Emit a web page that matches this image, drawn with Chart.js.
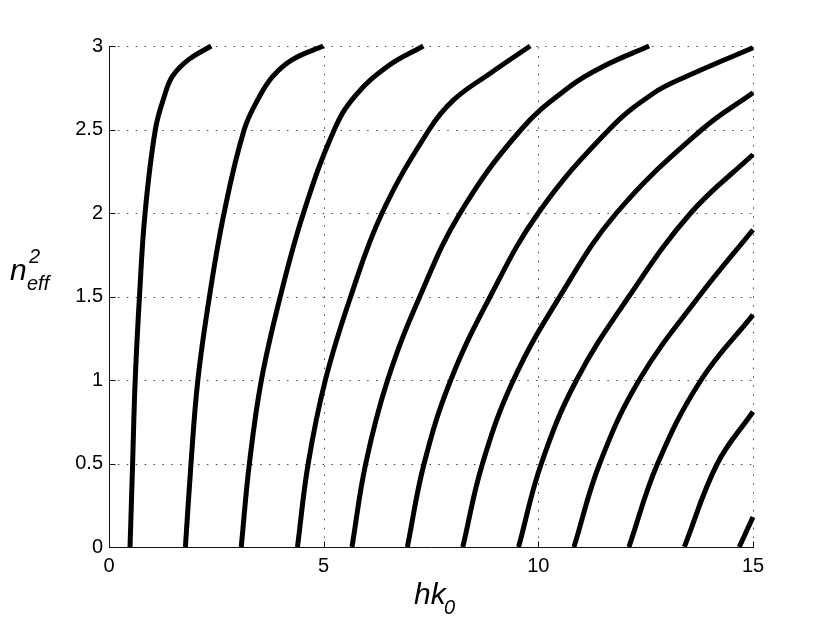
<!DOCTYPE html>
<html>
<head>
<meta charset="utf-8">
<script src="https://cdn.jsdelivr.net/npm/chart.js@4.4.1/dist/chart.umd.min.js"></script>
<style>
  html, body { margin: 0; padding: 0; background: #fff; }
  #wrap { position: relative; width: 830px; height: 625px; }
  .lab { position: absolute; font-family: "Liberation Sans", Arial, sans-serif; font-style: italic; color: #000; white-space: nowrap; }
  .big { font-size: 30px; line-height: 30px; }
  .small { font-size: 20px; line-height: 20px; }
</style>
</head>
<body>
<div id="wrap">
  <canvas id="chart" width="830" height="625"></canvas>
  <div class="lab big" style="left:10px; top:255px;">n</div>
  <div class="lab small" style="left:29px; top:246px;">2</div>
  <div class="lab small" style="left:27px; top:273px;">eff</div>
  <div class="lab big" style="left:414px; top:579px;">hk</div>
  <div class="lab small" style="left:444px; top:597px;">0</div>
</div>
<script>
// [hk0, neff^2], one list per mode
const mode1 = [[0.49,0],[0.55,0.5],[0.61,1.0],[0.71,1.5],[0.84,2.0],[1.08,2.5],[1.29,2.70],[1.48,2.82],[1.86,2.92],[2.38,3.0]];
const mode2 = [[1.78,0],[1.91,0.5],[2.07,1.0],[2.34,1.5],[2.68,2.0],[3.15,2.5],[3.51,2.70],[3.82,2.82],[4.28,2.92],[4.99,3.0]];
const mode3 = [[3.08,0],[3.27,0.5],[3.55,1.0],[3.99,1.5],[4.53,2.0],[5.25,2.5],[5.73,2.70],[6.50,2.88],[7.32,3.0]];
const mode4 = [[4.39,0],[4.64,0.5],[5.04,1.0],[5.63,1.5],[6.36,2.0],[7.46,2.5],[8.04,2.68],[8.90,2.84],[9.81,3.0]];
const mode5 = [[5.66,0],[5.98,0.5],[6.49,1.0],[7.24,1.5],[8.18,2.0],[9.6,2.5],[10.75,2.76],[11.53,2.88],[12.58,3.0]];
const mode6 = [[6.95,0],[7.34,0.5],[7.96,1.0],[8.88,1.5],[10.0,2.0],[11.65,2.5],[12.70,2.72],[13.47,2.82],[15.0,2.99]];
const mode7 = [[8.24,0],[8.70,0.5],[9.42,1.0],[10.5,1.5],[11.82,2.0],[13.81,2.5],[15.0,2.72]];
const mode8 = [[9.54,0],[10.07,0.5],[10.89,1.0],[12.11,1.5],[13.55,2.0],[15.0,2.35]];
const mode9 = [[10.83,0],[11.43,0.5],[12.35,1.0],[13.74,1.5],[15.0,1.9]];
const mode10 = [[12.11,0],[12.78,0.5],[13.79,1.0],[15.0,1.39]];
const mode11 = [[13.40,0],[14.17,0.5],[15.0,0.81]];
const mode12 = [[14.68,0],[15.0,0.18]];

const modes = [mode1, mode2, mode3, mode4, mode5, mode6, mode7, mode8, mode9, mode10, mode11, mode12];

const xTicks = [0, 5, 10, 15];
const yTicks = [0, 0.5, 1, 1.5, 2, 2.5, 3];

const FONT = '"Liberation Sans", Arial, sans-serif';

// matlab style: dotted grid, solid left/bottom axes, ticks pointing in
const axesPlugin = {
  id: 'matlabAxes',
  beforeDatasetsDraw(chart) {
    const { ctx, chartArea: a, scales: { x, y } } = chart;
    ctx.save();
    ctx.lineWidth = 1;
    ctx.strokeStyle = '#444';
    ctx.setLineDash([1.5, 7.4]);
    yTicks.forEach(v => {
      const py = Math.round(y.getPixelForValue(v)) + 0.5;
      if (v === 0) return;
      ctx.beginPath(); ctx.moveTo(a.left, py); ctx.lineTo(a.right, py); ctx.stroke();
    });
    xTicks.forEach(v => {
      const px = Math.round(x.getPixelForValue(v)) + 0.5;
      if (v === 0) return;
      ctx.beginPath(); ctx.moveTo(px, a.bottom); ctx.lineTo(px, a.top); ctx.stroke();
    });
    ctx.setLineDash([]);
    ctx.strokeStyle = '#111';
    const l = Math.round(a.left) + 0.5, b = Math.round(a.bottom) + 0.5;
    ctx.beginPath();
    ctx.moveTo(l, Math.round(a.top)); ctx.lineTo(l, b); ctx.lineTo(Math.round(a.right) + 1, b);
    yTicks.forEach(v => {
      const py = Math.round(y.getPixelForValue(v)) + 0.5;
      ctx.moveTo(l, py); ctx.lineTo(l + 6, py);
    });
    xTicks.forEach(v => {
      const px = Math.round(x.getPixelForValue(v)) + 0.5;
      ctx.moveTo(px, b); ctx.lineTo(px, b - 6);
    });
    ctx.stroke();
    ctx.restore();
  }
};

new Chart(document.getElementById('chart'), {
  type: 'line',
  data: {
    datasets: modes.map(m => ({
      data: m.map(p => ({ x: p[0], y: p[1] })),
      borderColor: '#000',
      borderWidth: 5,
      pointRadius: 0,
      fill: false,
      tension: 0.4,
      borderCapStyle: 'butt',
      borderJoinStyle: 'round',
      clip: { left: 0, top: 3, right: 3, bottom: 0 }
    }))
  },
  options: {
    responsive: false,
    animation: false,
    layout: { padding: { left: 0, top: 46, right: 77, bottom: 0 } },
    plugins: { legend: { display: false }, tooltip: { enabled: false } },
    scales: {
      x: {
        type: 'linear', min: 0, max: 15,
        afterBuildTicks: s => { s.ticks = xTicks.map(v => ({ value: v })); },
        afterFit: s => { s.height = 78; },
        grid: { display: false, drawTicks: false },
        border: { display: false },
        ticks: { padding: 7, color: '#000', font: { family: FONT, size: 20 }, maxRotation: 0,
                 callback: v => String(v) }
      },
      y: {
        type: 'linear', min: 0, max: 3,
        afterBuildTicks: s => { s.ticks = yTicks.map(v => ({ value: v })); },
        afterFit: s => { s.width = 109; },
        grid: { display: false, drawTicks: false },
        border: { display: false },
        ticks: { padding: 6, color: '#000', font: { family: FONT, size: 20 },
                 callback: v => String(v) }
      }
    }
  },
  plugins: [axesPlugin]
});
</script>
</body>
</html>
